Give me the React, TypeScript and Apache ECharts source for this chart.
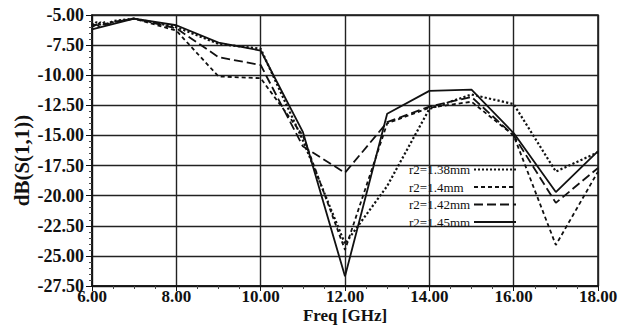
import React, { useEffect, useRef } from "react";
import * as echarts from "echarts";

const seriesNames = ["r2=1.38mm", "r2=1.4mm", "r2=1.42mm", "r2=1.45mm"];

const r138: [number, number][] = [
  [6, -5.9], [6.1, -5.6], [6.2, -5.8], [6.3, -5.6], [6.4, -5.75], [6.5, -5.5],
  [7, -5.3], [8, -6.0], [9, -7.4], [10, -7.8], [11, -15.4], [12, -24.0],
  [13, -19.2], [14, -12.8], [15, -11.6], [16, -12.4], [17, -18.0], [18, -16.4],
];
const r14: [number, number][] = [
  [6, -5.7], [6.1, -5.9], [6.2, -5.6], [6.3, -5.8], [6.4, -5.6], [6.5, -5.6],
  [7, -5.3], [8, -6.3], [9, -10.1], [10, -10.25], [11, -15.0], [12, -24.5],
  [13, -14.0], [14, -12.7], [15, -12.2], [16, -15.0], [17, -24.1], [18, -18.0],
];
const r142: [number, number][] = [
  [6, -6.0], [6.1, -5.8], [6.2, -6.0], [6.3, -5.7], [6.4, -5.8], [6.5, -5.6],
  [7, -5.3], [8, -6.1], [9, -8.5], [10, -9.15], [11, -15.9], [12, -18.1],
  [13, -13.9], [14, -12.6], [15, -11.8], [16, -15.0], [17, -20.6], [18, -17.7],
];
const r145: [number, number][] = [
  [6, -6.2], [7, -5.3], [8, -5.85], [9, -7.3], [10, -7.95], [11, -14.7],
  [12, -26.7], [13, -13.2], [14, -11.3], [15, -11.2], [16, -14.8], [17, -19.7],
  [18, -16.3],
];

const lineTypes: any[] = ["dotted", [4, 3], [9, 4], "solid"];
const seriesData = [r138, r14, r142, r145];

const FONT = "'Liberation Serif', 'Times New Roman', serif";

export default function App() {
  const ref = useRef<HTMLDivElement>(null);
  useEffect(() => {
    if (!ref.current) return;
    const chart = echarts.init(ref.current, undefined, { renderer: "svg" });
    chart.setOption({
      animation: false,
      backgroundColor: "#fff",
      grid: {
        left: 92,
        right: 32,
        top: 15,
        bottom: 47,
        show: true,
        borderColor: "#111",
        borderWidth: 1.5,
        outerBoundsMode: "none",
        containLabel: false,
      },
      legend: {
        orient: "vertical",
        left: 409,
        top: 163,
        align: "right",
        itemWidth: 42,
        itemHeight: 12,
        itemGap: 4.5,
        padding: 0,
        selectedMode: false,
        data: seriesNames,
        itemStyle: { opacity: 0 },
        formatter: (name: string) => "{a|" + name + "}",
        textStyle: {
          fontFamily: FONT,
          fontSize: 13,
          color: "#111",
          rich: {
            a: { width: 60, align: "left", fontFamily: FONT, fontSize: 13, color: "#111" },
          },
        },
      },
      xAxis: {
        type: "value",
        min: 6,
        max: 18,
        interval: 2,
        name: "Freq [GHz]",
        nameLocation: "middle",
        nameGap: 21,
        nameMoveOverlap: false,
        nameTextStyle: { fontFamily: FONT, fontSize: 17, fontWeight: "bold", color: "#111" },
        axisLine: { show: true, lineStyle: { color: "#111", width: 1.5 } },
        axisTick: { show: true, length: 5, lineStyle: { color: "#111" } },
        minorTick: { show: true, splitNumber: 4, length: 3, lineStyle: { color: "#444" } },
        axisLabel: {
          fontFamily: FONT,
          fontSize: 17,
          fontWeight: "bold",
          color: "#111",
          margin: 2,
          formatter: (v: number) => v.toFixed(2),
        },
        splitLine: { show: true, lineStyle: { color: "#222", width: 1.4 } },
      },
      yAxis: {
        type: "value",
        min: -27.5,
        max: -5,
        interval: 2.5,
        name: "dB(S(1,1))",
        nameLocation: "middle",
        nameGap: 60,
        nameMoveOverlap: false,
        nameRotate: 90,
        nameTextStyle: {
          fontFamily: FONT,
          fontSize: 21,
          fontWeight: "bold",
          color: "#111",
          padding: [0, 20, 0, 0],
        },
        axisLine: { show: true, lineStyle: { color: "#111", width: 1.5 } },
        axisTick: { show: true, length: 6, lineStyle: { color: "#111" } },
        minorTick: { show: true, splitNumber: 5, length: 3, lineStyle: { color: "#444" } },
        axisLabel: {
          fontFamily: FONT,
          fontSize: 18,
          fontWeight: "bold",
          color: "#111",
          margin: 8,
          formatter: (v: number) => v.toFixed(2),
        },
        splitLine: { show: true, lineStyle: { color: "#222", width: 1.4 } },
      },
      series: seriesNames.map((name, i) => ({
        name,
        type: "line",
        data: seriesData[i],
        symbol: "none",
        showSymbol: false,
        color: "#111",
        lineStyle: { color: "#111", width: i === 0 ? 2.2 : 1.8, type: lineTypes[i] },
        z: 3 + i,
      })),
    });
    return () => chart.dispose();
  }, []);
  return <div ref={ref} style={{ width: 630, height: 333, margin: -8 }} />;
}
